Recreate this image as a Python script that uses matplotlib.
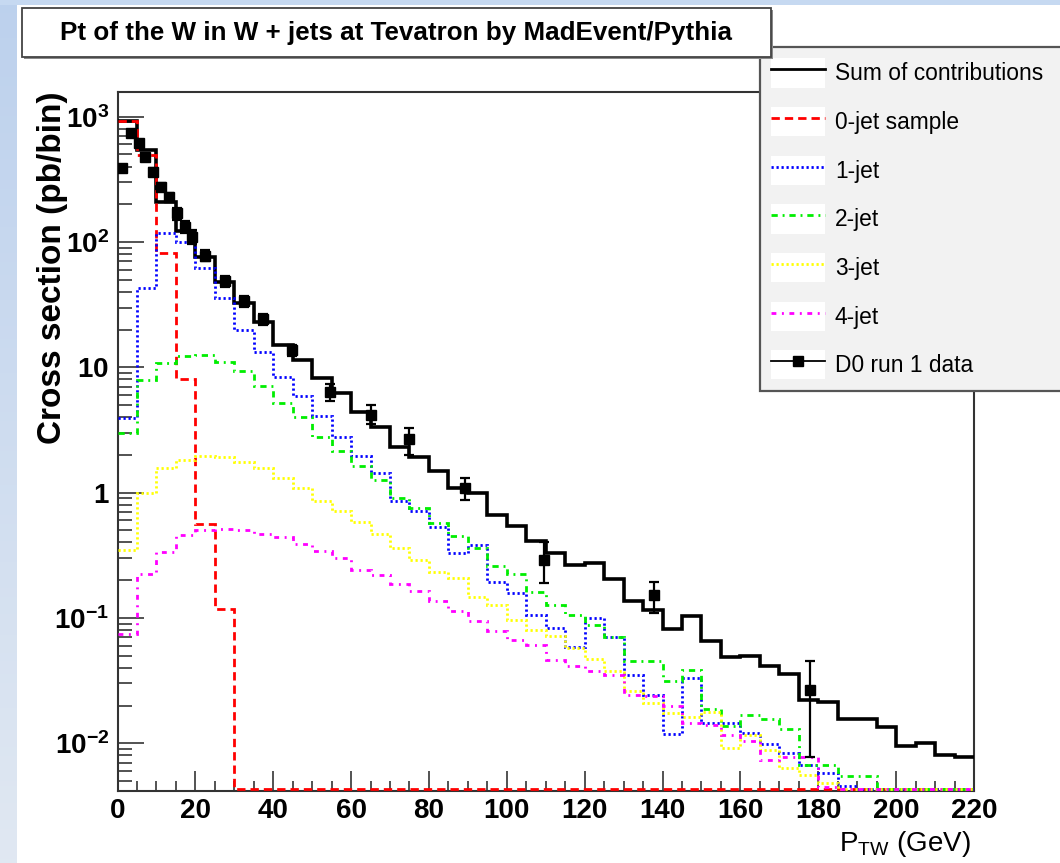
import numpy as np
import matplotlib
matplotlib.use("Agg")
import matplotlib.pyplot as plt
from matplotlib.patches import Rectangle, Patch
from matplotlib.lines import Line2D
from matplotlib.legend_handler import HandlerTuple
from matplotlib.ticker import MultipleLocator, LogLocator, NullFormatter

# ---------------- data ----------------
bin_edges = np.arange(0, 225, 5)  # 5 GeV bins, 0..220

sum_contrib = [925, 542, 210, 123, 76, 48, 32.4, 22.9, 15.1, 11.4,
               8.2, 6.2, 4.43, 3.36, 2.32, 1.94, 1.50, 1.09, 0.99, 0.66,
               0.54, 0.41, 0.33, 0.264, 0.275, 0.204, 0.137, 0.116, 0.081, 0.104,
               0.065, 0.049, 0.050, 0.0415, 0.0356, 0.0221, 0.0214, 0.0155, 0.0155, 0.0134,
               0.0095, 0.0100, 0.0081, 0.0077]

jet0 = [925, 494, 82, 8.0, 0.56, 0.117] + [0] * 38

jet1 = [3.96, 42.7, 117, 100, 61.7, 35.6, 19.9, 13.3, 8.3, 5.9,
        4.1, 2.79, 1.96, 1.44, 0.86, 0.72, 0.53, 0.33, 0.38, 0.194,
        0.157, 0.105, 0.083, 0.059, 0.099, 0.071, 0.035, 0.0243, 0.0118, 0.033,
        0.0144, 0.0144, 0.012, 0.0099, 0.0084, 0.0067, 0.0058, 0.0046, 0, 0,
        0, 0, 0, 0]

jet2 = [2.97, 7.85, 10.8, 12.2, 12.5, 11.1, 9.3, 7.1, 5.2, 4.0,
        2.8, 2.15, 1.63, 1.26, 0.90, 0.76, 0.575, 0.45, 0.36, 0.26,
        0.224, 0.16, 0.127, 0.105, 0.088, 0.071, 0.0456, 0.0456, 0.0316, 0.0384,
        0.0188, 0.0137, 0.0168, 0.0155, 0.0131, 0.0067, 0.0067, 0.0055, 0.0055, 0,
        0, 0, 0, 0]

jet3 = [0.35, 1.0, 1.58, 1.82, 1.96, 1.94, 1.75, 1.58, 1.32, 1.09,
        0.85, 0.72, 0.58, 0.47, 0.36, 0.29, 0.234, 0.21, 0.147, 0.127,
        0.096, 0.080, 0.072, 0.058, 0.047, 0.038, 0.026, 0.021, 0.0173, 0.0161,
        0.0179, 0.0092, 0.0116, 0.0088, 0.0063, 0.0056, 0.0048, 0, 0, 0,
        0, 0, 0, 0]

jet4 = [0.075, 0.224, 0.337, 0.46, 0.50, 0.51, 0.50, 0.47, 0.44, 0.39,
        0.34, 0.30, 0.24, 0.22, 0.185, 0.164, 0.137, 0.114, 0.095, 0.078,
        0.067, 0.061, 0.046, 0.041, 0.038, 0.035, 0.0243, 0.024, 0.020, 0.0144,
        0.014, 0.0116, 0.0105, 0.0074, 0.0077, 0.0077, 0.0045, 0, 0, 0,
        0, 0, 0, 0]

data_x = [1.1, 3.4, 5.4, 7.1, 9.2, 11.1, 13.3, 15.2, 17.4, 19.2,
          22.5, 27.6, 32.5, 37.5, 44.8, 54.7, 65.2, 75.0, 89.3, 109.5,
          137.7, 177.9]
data_y = [387, 738, 614, 480, 364, 276, 228, 169, 132, 110,
          78, 49, 33.8, 24.2, 13.7, 6.4, 4.2, 2.7, 1.08, 0.29,
          0.152, 0.0266]
data_err_lo = [20, 40, 35, 30, 25, 20, 18, 18, 15, 14,
               8, 5, 3.5, 2.5, 1.5, 1.0, 0.7, 0.7, 0.21, 0.10,
               0.043, 0.0188]
data_err_hi = [20, 40, 35, 30, 25, 20, 18, 18, 15, 14,
               8, 5, 3.5, 2.5, 1.5, 1.0, 0.8, 0.6, 0.22, 0.115,
               0.042, 0.019]

x_ticks = [0, 20, 40, 60, 80, 100, 120, 140, 160, 180, 200, 220]
x_tick_labels = ["0", "20", "40", "60", "80", "100", "120", "140", "160", "180", "200", "220"]
y_ticks = [1e-2, 1e-1, 1, 10, 1e2, 1e3]
y_tick_labels = [r"$\mathbf{10^{-2}}$", r"$\mathbf{10^{-1}}$", r"$\mathbf{1}$",
                 r"$\mathbf{10}$", r"$\mathbf{10^{2}}$", r"$\mathbf{10^{3}}$"]

series_labels = ["Sum of contributions", "0-jet sample", "1-jet", "2-jet",
                 "3-jet", "4-jet", "D0 run 1 data"]
title_text = "Pt of the W in W + jets at Tevatron by MadEvent/Pythia"

# ---------------- fonts ----------------
NF = "Liberation Sans"
plt.rcParams["font.family"] = [NF, "DejaVu Sans"]
plt.rcParams["mathtext.fontset"] = "custom"
plt.rcParams["mathtext.rm"] = NF
plt.rcParams["mathtext.it"] = NF
plt.rcParams["mathtext.bf"] = NF + ":bold"
plt.rcParams["lines.scale_dashes"] = False

W, H = 1060, 863
fig = plt.figure(figsize=(W / 100, H / 100), dpi=100)
fig.patch.set_facecolor("#c6d9f1")


def fx(px):
    return px / W


def fy(py):
    return 1 - py / H


# white canvas + left gradient strip
fig.add_artist(Rectangle((fx(17), 0), 1 - fx(17), fy(5), transform=fig.transFigure,
                         facecolor="white", edgecolor="none", zorder=-20))
gax = fig.add_axes([0, 0, fx(17), fy(5)], zorder=-15)
top_c = np.array([0.74, 0.82, 0.93])
bot_c = np.array([0.88, 0.91, 0.95])
t = np.linspace(0, 1, 200)[:, None]
grad = (top_c[None, :] * (1 - t) + bot_c[None, :] * t)[:, None, :]
gax.imshow(grad, aspect="auto", extent=[0, 1, 0, 1])
gax.set_axis_off()

# ---------------- main axes ----------------
L, R, T, B = 117.5, 974, 92, 791
ax = fig.add_axes([fx(L), fy(B), (R - L) / W, (B - T) / H])
ax.set_yscale("log")
ymin, ymax = 10 ** -2.381, 10 ** 3.197
ax.set_xlim(0, 220)
ax.set_ylim(ymin, ymax)

floor = ymin * 1.04


def show(v):
    v = np.asarray(v, dtype=float)
    return np.where(v > 0, v, floor)


ST = {
    "sum": dict(color="black", lw=2.6, linestyle="-"),
    "j0": dict(color="#ff0000", lw=2.0, linestyle=(0, (6, 3.6))),
    "j1": dict(color="#0000ff", lw=2.0, linestyle=(0, (1.6, 2.0))),
    "j2": dict(color="#00ee00", lw=2.0, linestyle=(0, (4.5, 3.5, 1.4, 3.5))),
    "j3": dict(color="#ffff00", lw=2.0, linestyle=(0, (1.6, 2.0))),
    "j4": dict(color="#ff00ff", lw=2.0, linestyle=(0, (3.5, 4.0, 1.4, 4.0))),
}

ax.stairs(show(sum_contrib), bin_edges, baseline=None, zorder=3, **ST["sum"])
ax.stairs(show(jet0), bin_edges, baseline=None, zorder=4, **ST["j0"])
ax.stairs(show(jet1), bin_edges, baseline=None, zorder=4, **ST["j1"])
ax.stairs(show(jet2), bin_edges, baseline=None, zorder=4, **ST["j2"])
ax.stairs(show(jet3), bin_edges, baseline=None, zorder=4, **ST["j3"])
ax.stairs(show(jet4), bin_edges, baseline=None, zorder=4, **ST["j4"])
ax.errorbar(data_x, data_y, yerr=[data_err_lo, data_err_hi], fmt="s", color="black",
            ms=7.5, elinewidth=1.6, capsize=3.5, capthick=1.6, zorder=6)

# spines & ticks (ROOT style: ticks inside, left/bottom only)
for s in ax.spines.values():
    s.set_color("#333333")
    s.set_linewidth(1.5)
ax.xaxis.set_minor_locator(MultipleLocator(5))
ax.set_xticks(x_ticks)
ax.set_xticklabels(x_tick_labels)
ax.yaxis.set_minor_locator(LogLocator(base=10, subs=np.arange(2, 10), numticks=20))
ax.yaxis.set_minor_formatter(NullFormatter())
ax.set_yticks(y_ticks)
ax.set_yticklabels(y_tick_labels)
ax.set_ylim(ymin, ymax)
ax.set_xlim(0, 220)

ax.tick_params(which="both", direction="in", top=False, right=False, color="#444444", width=1.3)
ax.tick_params(axis="y", which="major", length=18.5, pad=6, labelsize=20)
ax.tick_params(axis="y", which="minor", length=10)
ax.tick_params(axis="x", which="major", length=14.5, pad=5, labelsize=20)
ax.tick_params(axis="x", which="minor", length=7.2)
for lab in ax.get_xticklabels():
    lab.set_fontweight("bold")

# axis titles
ax.set_ylabel("Cross section (pb/bin)", fontsize=24, fontweight="bold", loc="top")
ax.yaxis.set_label_coords((68 - L) / (R - L), 1.0)
ax.set_xlabel(r"P$_{\mathrm{TW}}$ (GeV)", fontsize=20, loc="right")
ax.xaxis.set_label_coords((971 - L) / (R - L), -(829 - B) / (B - T))

# ---------------- legend ----------------
white = Patch(facecolor="white", edgecolor="none")
proxies = [Line2D([], [], **ST[k]) for k in ("sum", "j0", "j1", "j2", "j3", "j4")]
proxies[0].set_linewidth(2.0)
proxies.append(Line2D([], [], color="black", lw=1.3, marker="s", ms=7.5))
handles = [(white, h) for h in proxies]
leg = fig.legend(handles, series_labels, handler_map={tuple: HandlerTuple(ndivide=1, pad=0)},
                 loc="upper left", bbox_to_anchor=(fx(760), fy(389), fx(1075) - fx(760), fy(47) - fy(389)),
                 bbox_transform=fig.transFigure, mode="expand", borderaxespad=0,
                 fontsize=16.4, handlelength=2.37, handleheight=1.6, handletextpad=0.42,
                 labelspacing=0.85, borderpad=0.5, fancybox=False, framealpha=1)
leg.get_frame().set_facecolor("#f2f2f2")
leg.get_frame().set_edgecolor("#555555")
leg.get_frame().set_linewidth(1.6)
leg.set_zorder(8)

# ---------------- title box ----------------
fig.add_artist(Rectangle((fx(24), fy(59)), fx(771) - fx(22), fy(8) - fy(57),
                         transform=fig.transFigure, facecolor="#8a8a8a", edgecolor="none", zorder=9))
fig.add_artist(Rectangle((fx(22), fy(57)), fx(771) - fx(22), fy(8) - fy(57),
                         transform=fig.transFigure, facecolor="white", edgecolor="#444444",
                         lw=1.3, zorder=10))
fig.text(fx(396.5), fy(33), title_text, ha="center", va="center",
         fontsize=18.7, fontweight="bold", zorder=11)

fig.savefig("out.png", dpi=100, facecolor=fig.get_facecolor())
